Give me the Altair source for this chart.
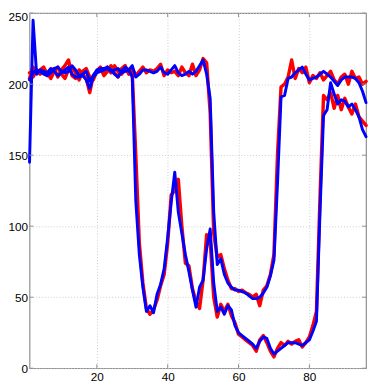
import altair as alt
import pandas as pd

x_vals = list(range(1, 97))

blue_a = [145, 245, 207, 210, 209, 208, 211, 209, 206, 208,
          210, 212, 207, 205, 205, 206, 203, 197, 205, 208,
          209, 210, 211, 209, 210, 211, 208, 209, 210, 205,
          118, 80, 57, 40, 44, 39, 52, 59, 70, 92,
          117, 138, 110, 95, 80, 68, 55, 43, 57, 62,
          84, 98, 60, 40, 43, 38, 44, 41, 30, 25,
          23, 21, 19, 17, 14, 19, 22, 21, 14, 10,
          12, 14, 16, 18, 18, 18, 17, 16, 18, 20,
          26, 33, 110, 178, 182, 201, 193, 186, 189, 188,
          184, 186, 182, 177, 168, 163]

red_a = [204, 212, 208, 210, 212, 206, 210, 211, 205, 210,
         213, 217, 206, 204, 210, 207, 204, 194, 206, 209,
         211, 207, 212, 208, 213, 209, 207, 211, 208, 208,
         150, 88, 60, 42, 38, 41, 48, 58, 66, 88,
         122, 125, 133, 100, 74, 72, 56, 47, 42, 62,
         94, 90, 50, 36, 45, 40, 45, 37, 32, 24,
         22, 20, 18, 16, 12, 20, 23, 18, 12, 8,
         14, 18, 16, 19, 17, 19, 20, 15, 18, 22,
         30, 40, 120, 192, 189, 194, 183, 192, 182, 190,
         184, 179, 186, 177, 174, 171]

blue_b = [203, 208, 210, 209, 207, 206, 208, 211, 212, 209,
          208, 209, 213, 210, 206, 207, 209, 202, 206, 210,
          211, 211, 212, 210, 207, 205, 209, 212, 210, 213,
          205, 207, 210, 210, 209, 208, 209, 212, 208, 207,
          210, 213, 208, 206, 207, 209, 207, 209, 213, 217,
          207, 190, 110, 73, 77, 66, 60, 57, 55, 55,
          54, 53, 51, 49, 49, 50, 53, 57, 65, 76,
          130, 191, 192, 204, 205, 208, 210, 212, 207, 203,
          204, 205, 207, 209, 207, 205, 202, 199, 203, 205,
          205, 205, 204, 201, 195, 187]

red_b = [208, 205, 210, 207, 211, 208, 204, 209, 212, 207,
         204, 210, 212, 208, 203, 209, 211, 205, 203, 209,
         212, 206, 209, 213, 208, 205, 211, 213, 207, 211,
         206, 209, 212, 208, 210, 209, 211, 214, 206, 210,
         208, 209, 206, 212, 208, 206, 214, 206, 210, 218,
         215, 180, 95, 78, 80, 70, 62, 56, 56, 54,
         55, 53, 52, 50, 52, 44, 55, 58, 66, 80,
         150, 198, 200, 205, 217, 204, 211, 208, 212, 201,
         206, 204, 208, 203, 206, 209, 203, 200, 205, 207,
         200, 209, 204, 205, 200, 202]

x_ticks = [20, 40, 60, 80]
y_ticks = [0, 50, 100, 150, 200, 250]

rows = []
for name, col, vals in [("red_a", "red", red_a), ("red_b", "red", red_b),
                        ("blue_a", "blue", blue_a), ("blue_b", "blue", blue_b)]:
    for xi, yi in zip(x_vals, vals):
        rows.append({"x": xi, "y": yi, "series": name, "col": col})
df = pd.DataFrame(rows)

W, H = 344, 363
BORDER = "#8f8f8f"
xs = alt.Scale(domain=[1, 96], nice=False, zero=False)
ys = alt.Scale(domain=[0, 250], nice=False, zero=False)

xaxis = alt.Axis(values=x_ticks, ticks=False, domain=False, grid=True,
                 gridColor="#cccccc", gridDash=[1, 2], gridWidth=1,
                 labelFont="Liberation Sans", labelFontSize=12, labelColor="black",
                 labelPadding=4, title=None)
yaxis = alt.Axis(values=y_ticks, ticks=False, domain=False, grid=True,
                 gridColor="#cccccc", gridDash=[1, 2], gridWidth=1,
                 labelFont="Liberation Sans", labelFontSize=12, labelColor="black",
                 labelPadding=2, title=None,
                 labelOffset=alt.condition("datum.value == 250", alt.value(4), alt.value(0)))

base = alt.Chart(df)
red = base.transform_filter(alt.datum.col == "red").mark_line(
    color="#ff0000", strokeWidth=3.5, strokeJoin="round", strokeCap="round"
).encode(
    x=alt.X("x:Q", scale=xs, axis=xaxis),
    y=alt.Y("y:Q", scale=ys, axis=yaxis),
    detail="series:N",
)
blue = base.transform_filter(alt.datum.col == "blue").mark_line(
    color="#0000ff", strokeWidth=3, strokeJoin="round", strokeCap="round"
).encode(
    x=alt.X("x:Q", scale=xs),
    y=alt.Y("y:Q", scale=ys),
    detail="series:N",
)

ydf = pd.DataFrame({"v": y_ticks})
xdf = pd.DataFrame({"v": x_ticks})
tl = alt.Chart(ydf).mark_rule(color=BORDER, strokeWidth=1).encode(
    y=alt.Y("v:Q", scale=ys), x=alt.value(0), x2=alt.value(4))
tr = alt.Chart(ydf).mark_rule(color=BORDER, strokeWidth=1).encode(
    y=alt.Y("v:Q", scale=ys), x=alt.value(W - 4), x2=alt.value(W))
tb = alt.Chart(xdf).mark_rule(color=BORDER, strokeWidth=1).encode(
    x=alt.X("v:Q", scale=xs), y=alt.value(H - 4), y2=alt.value(H))
tt = alt.Chart(xdf).mark_rule(color=BORDER, strokeWidth=1).encode(
    x=alt.X("v:Q", scale=xs), y=alt.value(0), y2=alt.value(4))

chart = alt.layer(red, blue, tl, tr, tb, tt).properties(
    width=W, height=H,
    autosize=alt.AutoSizeParams(type="none"),
    padding={"left": 22, "top": 1, "right": 2, "bottom": 17},
).configure_view(stroke=BORDER, strokeWidth=1.2)

chart.save("out.html", embed_options={"renderer": "svg", "actions": False})
